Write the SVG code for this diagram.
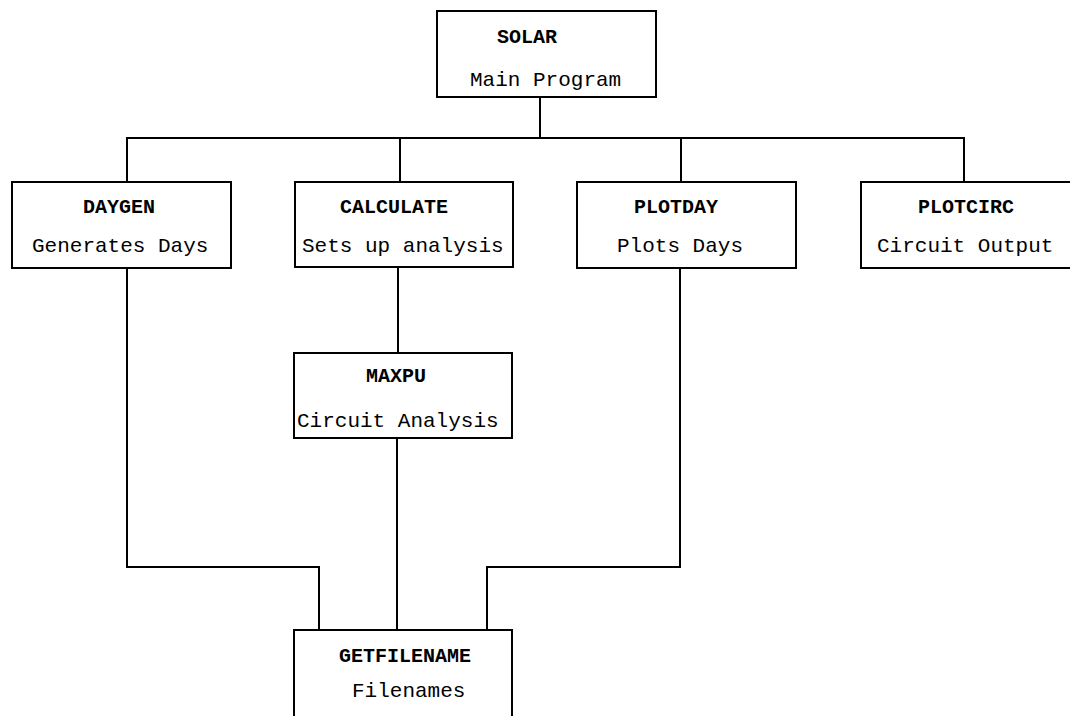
<svg xmlns="http://www.w3.org/2000/svg" width="1070" height="716" viewBox="0 0 1070 716">
<style>
.box{fill:#fff;stroke:#000;stroke-width:2}
.conn{fill:none;stroke:#000;stroke-width:2}
.t{font-family:"Liberation Mono","Courier New",monospace;font-size:21px;fill:#000}
.h{font-weight:bold;font-size:20px}
</style>
<rect width="1070" height="716" fill="#fff"/>
<g id="connectors">
<path class="conn" d="M540 97V138M127 182V138H964V182M400 138V182M681 138V182"/>
<path class="conn" d="M398 267V353"/>
<path class="conn" d="M397 438V630"/>
<path class="conn" d="M127 268V567H319V630"/>
<path class="conn" d="M680 268V567H487V630"/>
</g>
<g id="solar">
<rect class="box" x="437" y="11" width="219" height="86"/>
<text class="t h" x="497" y="43">SOLAR</text>
<text class="t" x="470" y="86">Main Program</text>
</g>
<g id="daygen">
<rect class="box" x="12" y="182" width="219" height="86"/>
<text class="t h" x="83" y="213">DAYGEN</text>
<text class="t" x="32" y="252">Generates Days</text>
</g>
<g id="calculate">
<rect class="box" x="295" y="182" width="218" height="85"/>
<text class="t h" x="340" y="213">CALCULATE</text>
<text class="t" x="302" y="252">Sets up analysis</text>
</g>
<g id="plotday">
<rect class="box" x="577" y="182" width="219" height="86"/>
<text class="t h" x="634" y="213">PLOTDAY</text>
<text class="t" x="617" y="252">Plots Days</text>
</g>
<g id="plotcirc">
<rect class="box" x="861" y="182" width="212" height="86"/>
<text class="t h" x="918" y="213">PLOTCIRC</text>
<text class="t" x="877" y="252">Circuit Output</text>
</g>
<g id="maxpu">
<rect class="box" x="294" y="353" width="218" height="85"/>
<text class="t h" x="366" y="382">MAXPU</text>
<text class="t" x="297" y="427">Circuit Analysis</text>
</g>
<g id="getfilename">
<rect class="box" x="294" y="630" width="218" height="95"/>
<text class="t h" x="339" y="662">GETFILENAME</text>
<text class="t" x="352" y="697">Filenames</text>
</g>
</svg>
